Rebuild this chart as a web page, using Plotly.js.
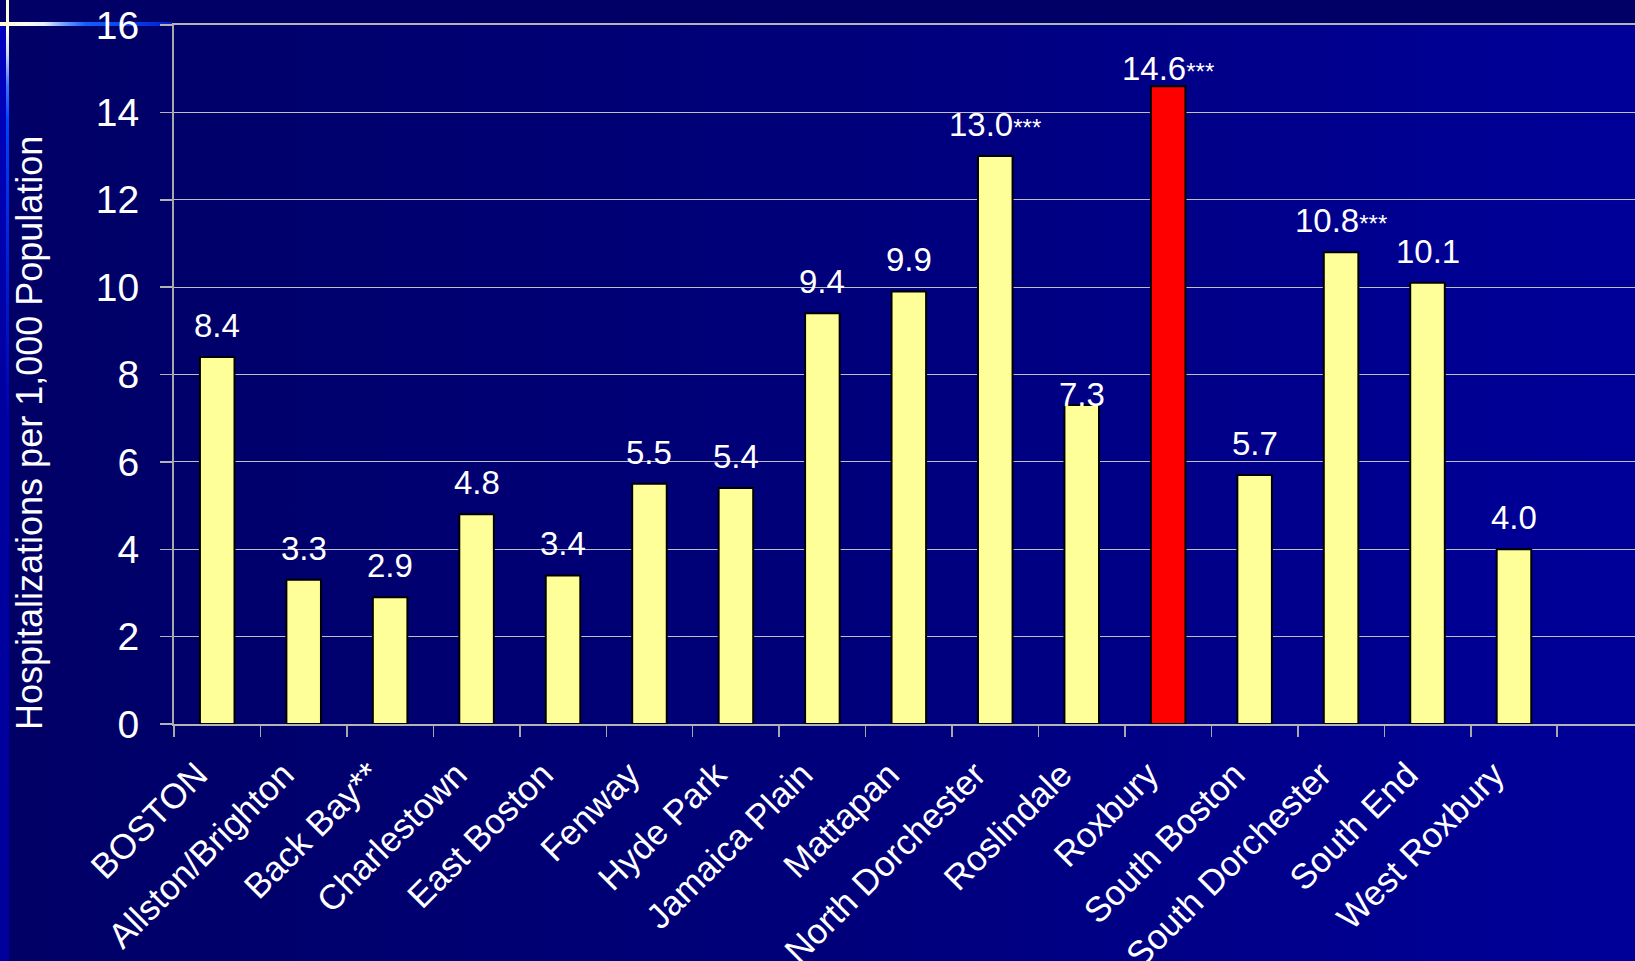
<!DOCTYPE html>
<html>
<head>
<meta charset="utf-8">
<script src="https://cdn.plot.ly/plotly-3.0.1.min.js"></script>
<style>
  html, body { margin:0; padding:0; width:1635px; height:961px; overflow:hidden; background:#000066; }
  #bg { position:absolute; left:0; top:0; width:1635px; height:961px;
        background: linear-gradient(to right, #000066 0%, #00007a 50%, #000099 100%); }
  #topband { position:absolute; left:0; top:0; width:1635px; height:24px; background:#000066; }
  #leftband { position:absolute; left:0; top:24px; width:7px; height:937px;
        background: linear-gradient(to bottom, #0000c0 0px, #00009c 400px, #00009c 961px); }
  #vline { position:absolute; left:6px; top:0; width:3px; height:961px;
        background: linear-gradient(to bottom, #ffffcc 0px, #ffffe6 30px, #c8d4ff 55px, #3f73ff 85px, #0044ff 120px, #0022dd 250px, #0000b0 420px, #00009c 961px); }
  #hline { position:absolute; left:0; top:22px; width:172px; height:4px;
        background: linear-gradient(to right, #ffffcc 0px, #fffff0 25px, #e6ecff 45px, #6f9bff 65px, #1560ff 85px, #0a44ee 120px, #0022cc 172px); }
  #chart { position:absolute; left:0; top:0; width:1635px; height:961px; }
</style>
</head>
<body>
<div id="bg"></div>
<div id="topband"></div>
<div id="leftband"></div>
<div id="vline"></div>
<div id="hline"></div>
<div id="chart"></div>
<script>
// ---- data ----
const categories = ["BOSTON", "Allston/Brighton", "Back Bay**", "Charlestown", "East Boston",
  "Fenway", "Hyde Park", "Jamaica Plain", "Mattapan", "North Dorchester", "Roslindale",
  "Roxbury", "South Boston", "South Dorchester", "South End", "West Roxbury"];
const rates = [8.4, 3.3, 2.9, 4.8, 3.4, 5.5, 5.4, 9.4, 9.9, 13.0, 7.3, 14.6, 5.7, 10.8, 10.1, 4.0];
const significance = ["", "", "", "", "", "", "", "", "", "***", "", "***", "", "***", "", ""];
const yTickValues = [0, 2, 4, 6, 8, 10, 12, 14, 16];
const highlighted = "Roxbury";
const yTitle = "Hospitalizations per 1,000 Population";

// ---- styles ----
const FONT = '"Liberation Sans", Arial, Helvetica, sans-serif';
const barColor = "#FFFF99";
const highlightColor = "#FF0000";
const labelShift = 11;
const labelShiftOverride = { "Roslindale": -10, "Roxbury": -3 };

const trace = {
  type: "bar",
  x: categories,
  y: rates,
  width: 0.4,
  marker: {
    color: categories.map(c => c === highlighted ? highlightColor : barColor),
    line: { color: "#000000", width: 2 }
  },
  hoverinfo: "x+y"
};

const annotations = categories.map((c, i) => ({
  x: c, y: rates[i], xref: "x", yref: "y",
  text: rates[i].toFixed(1) + (significance[i] ? '<span style="font-size:24px">' + significance[i] + '</span>' : ''),
  showarrow: false, xanchor: "center", yanchor: "bottom",
  yshift: (c in labelShiftOverride) ? labelShiftOverride[c] : labelShift,
  font: { family: FONT, size: 33, color: "#ffffff" }
}));

annotations.push({
  xref: "paper", yref: "paper", x: 0, y: 0, xshift: -145, yshift: -8,
  xanchor: "center", yanchor: "bottom", textangle: -90, showarrow: false,
  text: yTitle, font: { family: FONT, size: 36, color: "#ffffff" }
});

const layout = {
  width: 1635, height: 961,
  margin: { l: 174, r: 0, t: 25, b: 237, pad: 0 },
  paper_bgcolor: "rgba(0,0,0,0)",
  plot_bgcolor: "rgba(0,0,0,0)",
  font: { family: FONT, color: "#ffffff" },
  showlegend: false,
  xaxis: {
    type: "category",
    range: [-0.5, 16.4],
    tickson: "boundaries",
    ticks: "outside", ticklen: 11, tickwidth: 1.5, tickcolor: "#a8a8a8",
    showline: true, linecolor: "#b4b4b4", linewidth: 2, mirror: true,
    showgrid: false, zeroline: false,
    tickangle: -45,
    tickfont: { family: FONT, size: 35, color: "#ffffff" },
    ticklabelshift: -20,
    ticklabelstandoff: 14,
    fixedrange: true
  },
  yaxis: {
    range: [0, 16],
    tickmode: "array", tickvals: yTickValues, ticktext: yTickValues.map(String),
    ticks: "outside", ticklen: 12, tickwidth: 1.5, tickcolor: "#b4b4b4",
    showline: true, linecolor: "#a8a8a8", linewidth: 2,
    showgrid: true, gridcolor: "#c0c0c0", gridwidth: 1,
    zeroline: false,
    tickfont: { family: FONT, size: 39, color: "#ffffff" },
    ticklabelstandoff: 13,
    fixedrange: true
  },
  annotations: annotations
};

Plotly.newPlot("chart", [trace], layout, { displayModeBar: false, staticPlot: true });
</script>
</body>
</html>
